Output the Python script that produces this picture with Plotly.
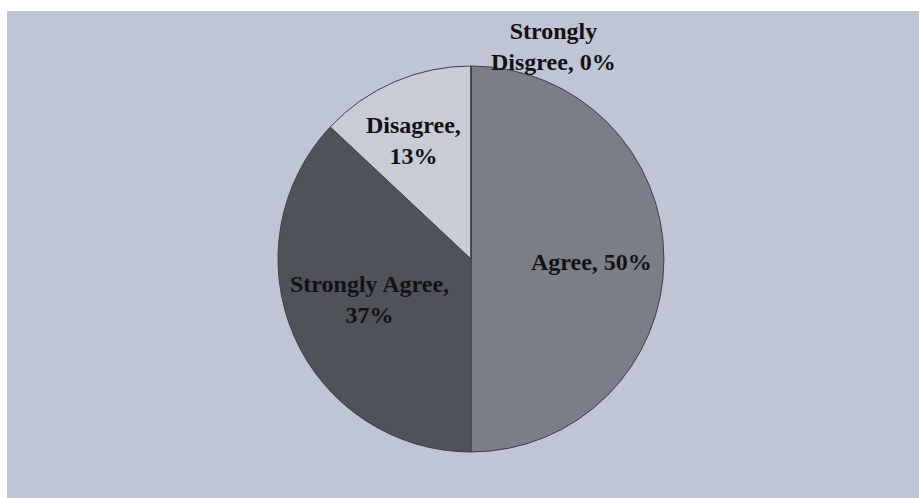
import plotly.graph_objects as go

labels = ["Agree", "Strongly Agree", "Disagree", "Strongly Disgree"]
values = [50, 37, 13, 0]
colors = ["#7b7e88", "#50525a", "#c9ccd6", "#b8bcc8"]
# word index after which a line break is placed in the slice label
break_after = [None, 2, 1, 1]
# label centres in pixels (x, y) of the 919x498 canvas
label_pos = [(591, 262), (369, 299), (413, 141), (553, 46)]

W, H = 919, 498
BG = "#c0c5d5"

fig = go.Figure()
fig.add_trace(go.Pie(
    labels=labels, values=values, sort=False, direction="clockwise", rotation=0,
    marker=dict(colors=colors, line=dict(color="#3e3f47", width=1)),
    textinfo="none", hoverinfo="label+percent", showlegend=False,
    domain=dict(x=[278 / W, 664 / W], y=[1 - 452 / H, 1 - 66 / H]),
))

for lab, val, br, (px, py) in zip(labels, values, break_after, label_pos):
    words = f"{lab}, {val}%".split(" ")
    if br is None:
        txt = " ".join(words)
    else:
        txt = " ".join(words[:br]) + "<br>" + " ".join(words[br:])
    fig.add_annotation(
        x=px / W, y=1 - py / H, xref="paper", yref="paper", text=txt,
        showarrow=False, xanchor="center", yanchor="middle", align="center",
        font=dict(family="Liberation Serif", size=24, color="#121212", weight="bold"),
    )

fig.add_shape(type="rect", xref="paper", yref="paper", x0=0, x1=1, y0=1 - 11 / H, y1=1,
              fillcolor="white", line=dict(width=0))
fig.add_shape(type="rect", xref="paper", yref="paper", x0=0, x1=7 / W, y0=0, y1=1,
              fillcolor="white", line=dict(width=0))

fig.update_layout(
    width=W, height=H, margin=dict(l=0, r=0, t=0, b=0),
    paper_bgcolor=BG, plot_bgcolor=BG,
)

fig.write_html("out.html")
